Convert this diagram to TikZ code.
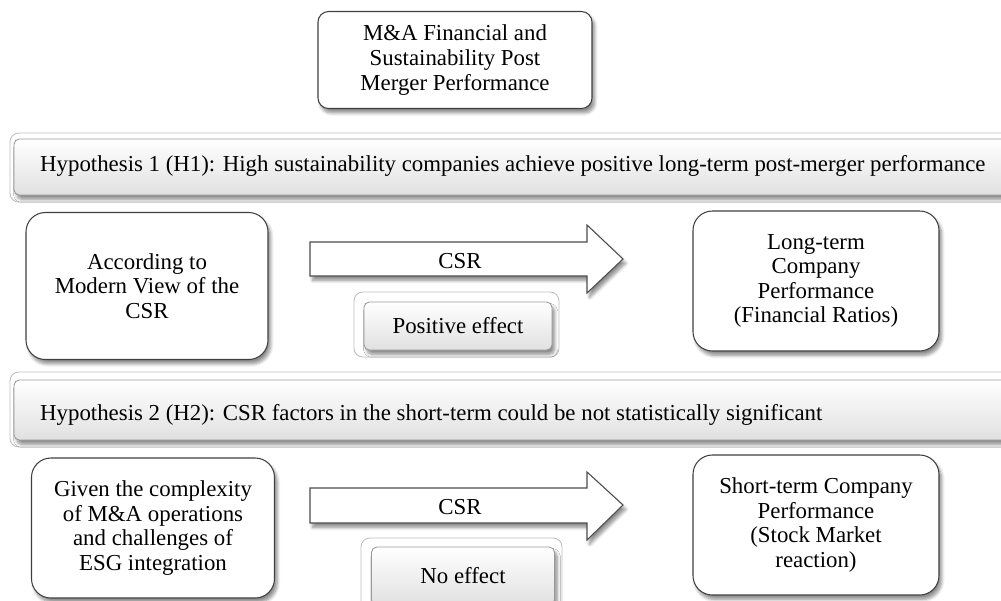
\documentclass[tikz,border=0pt]{standalone}
\usepackage{fontspec}
\setmainfont{Liberation Serif}
\usetikzlibrary{shadows.blur}

\tikzset{
  shade box/.style={blur shadow={shadow xshift=1.5pt,shadow yshift=-2.5pt,shadow blur steps=6,shadow opacity=45}},
  roundbox/.style={draw=black!75,line width=0.6pt,fill=white,rounded corners=11pt,align=center,shade box},
  framebox/.style={draw=black!25,line width=0.5pt,fill=white,rounded corners=5pt},
  barbox/.style={draw=black!40,line width=0.5pt,top color=white,bottom color=black!12,rounded corners=3pt,shade box},
  blockarrow/.style={draw=black!70,line width=0.6pt,fill=white,shade box},
}

\begin{document}
\begin{tikzpicture}[x=0.02cm,y=-0.02cm,font=\fontsize{13}{14}\selectfont]
  \useasboundingbox (0,0) rectangle (1001,600);
  % top box
  \node[roundbox,rounded corners=6pt,minimum width=274*0.02cm,minimum height=97*0.02cm] (top) at (455,60)
    {M\&A Financial and\\Sustainability Post\\Merger Performance};
  % hypothesis 1
  \draw[framebox] (10,133) rectangle (1012,202);
  \draw[barbox] (14,139) rectangle (1010,195);
  \node[anchor=west] (hyp1) at (34,166) {Hypothesis 1 (H1): High sustainability companies achieve positive long-term post-merger performance};
  \node[roundbox,minimum width=242*0.02cm,minimum height=147*0.02cm] (modern) at (147,286)
    {According to\\Modern View of the\\CSR};
  \draw[blockarrow] (310,242) -- (587,242) -- (587,225) -- (623,259) -- (587,293) -- (587,276) -- (310,276) -- cycle;
  \node (csr1) at (460,261) {CSR};
  \draw[framebox] (354,292) rectangle (559,357);
  \node[barbox,minimum width=188*0.02cm,minimum height=48*0.02cm] (pos) at (458,326) {Positive effect};
  \node[roundbox,minimum width=246*0.02cm,minimum height=140*0.02cm] (long) at (816,281)
    {Long-term\\Company\\Performance\\(Financial Ratios)};
  % hypothesis 2
  \draw[framebox] (10,372) rectangle (1012,447);
  \draw[barbox] (14,380) rectangle (1010,440);
  \node[anchor=west] (hyp2) at (34,415) {Hypothesis 2 (H2): CSR factors in the short-term could be not statistically significant};
  \node[roundbox,minimum width=243*0.02cm,minimum height=140*0.02cm] (esg) at (153,528)
    {Given the complexity\\of M\&A operations\\and challenges of\\ESG integration};
  \draw[blockarrow] (310,488) -- (587,488) -- (587,472) -- (623,505) -- (587,540) -- (587,523) -- (310,523) -- cycle;
  \node (csr2) at (460,507) {CSR};
  \draw[framebox] (361,538) rectangle (562,612);
  \node[barbox,minimum width=183*0.02cm,minimum height=58*0.02cm] (none) at (463,576) {No effect};
  \node[roundbox,minimum width=246*0.02cm,minimum height=140*0.02cm] (short) at (816,525)
    {Short-term Company\\Performance\\(Stock Market\\reaction)};
\end{tikzpicture}
\end{document}
